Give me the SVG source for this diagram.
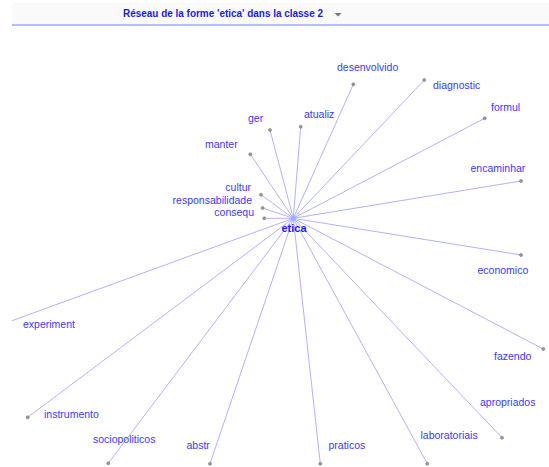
<svg xmlns="http://www.w3.org/2000/svg" width="549" height="467" viewBox="0 0 549 467">
<style>
.lbl{font-family:"Liberation Sans",Arial,sans-serif;font-size:10.5px;fill:#3a3aff}
.e{text-anchor:end}
.dot{fill:#999;stroke:#777;stroke-width:0.6}
.edges line{stroke:#b2b2ff;stroke-width:1}
.title{font-family:"Liberation Sans",Arial,sans-serif;font-size:10px;font-weight:bold;fill:#1a1aee}
</style>
<rect width="549" height="467" fill="#fff"/>
<g id="header">
<rect x="12" y="3" width="537" height="21" fill="#fafafa"/>
<rect x="12" y="24" width="537" height="2" fill="#b4bcff"/>
<text class="title" x="123" y="17" textLength="200" lengthAdjust="spacingAndGlyphs">Réseau de la forme 'etica' dans la classe 2</text>
<polygon points="334.5,13 341.5,13 338,16.5" fill="#777"/>
</g>
<g class="edges" id="connectors">
<line x1="293.3" y1="218.3" x2="270" y2="130"/>
<line x1="293.3" y1="218.3" x2="300.7" y2="126.7"/>
<line x1="293.3" y1="218.3" x2="250.3" y2="154.3"/>
<line x1="293.3" y1="218.3" x2="261" y2="194.7"/>
<line x1="293.3" y1="218.3" x2="262.7" y2="208"/>
<line x1="293.3" y1="218.3" x2="264.3" y2="218.3"/>
<line x1="293.3" y1="218.3" x2="353.3" y2="84.3"/>
<line x1="293.3" y1="218.3" x2="424.3" y2="80"/>
<line x1="293.3" y1="218.3" x2="484.7" y2="118.3"/>
<line x1="293.3" y1="218.3" x2="521" y2="181"/>
<line x1="293.3" y1="218.3" x2="521" y2="255"/>
<line x1="293.3" y1="218.3" x2="543.3" y2="349"/>
<line x1="293.3" y1="218.3" x2="12" y2="320.7"/>
<line x1="293.3" y1="218.3" x2="27.7" y2="417.3"/>
<line x1="293.3" y1="218.3" x2="108.3" y2="463.3"/>
<line x1="293.3" y1="218.3" x2="210" y2="463.7"/>
<line x1="293.3" y1="218.3" x2="320.3" y2="463.7"/>
<line x1="293.3" y1="218.3" x2="427.3" y2="463.7"/>
<line x1="293.3" y1="218.3" x2="502" y2="437.7"/>
</g>
<g id="etica">
<circle cx="293.3" cy="218.3" r="2.5" fill="#9db0ff"/>
<text x="294" y="232" style="font-family:'Liberation Sans',Arial,sans-serif;font-size:11px;font-weight:bold;fill:#1a1aff;text-anchor:middle">etica</text>
</g>
<g id="ger"><circle class="dot" cx="270" cy="130" r="1.5"/><text class="lbl" x="248" y="122">ger</text></g>
<g id="atualiz"><circle class="dot" cx="300.7" cy="126.7" r="1.5"/><text class="lbl" x="304" y="118">atualiz</text></g>
<g id="manter"><circle class="dot" cx="250.3" cy="154.3" r="1.5"/><text class="lbl" x="205" y="148">manter</text></g>
<g id="cultur"><circle class="dot" cx="261" cy="194.7" r="1.5"/><text class="lbl e" x="251" y="191">cultur</text></g>
<g id="responsabilidade"><circle class="dot" cx="262.7" cy="208" r="1.5"/><text class="lbl e" x="252" y="204">responsabilidade</text></g>
<g id="consequ"><circle class="dot" cx="264.3" cy="218.3" r="1.5"/><text class="lbl e" x="254" y="216">consequ</text></g>
<g id="desenvolvido"><circle class="dot" cx="353.3" cy="84.3" r="1.5"/><text class="lbl" x="337" y="71">desenvolvido</text></g>
<g id="diagnostic"><circle class="dot" cx="424.3" cy="80" r="1.5"/><text class="lbl" x="433" y="89">diagnostic</text></g>
<g id="formul"><circle class="dot" cx="484.7" cy="118.3" r="1.5"/><text class="lbl" x="491" y="111">formul</text></g>
<g id="encaminhar"><circle class="dot" cx="521" cy="181" r="1.5"/><text class="lbl" x="470.5" y="171.5">encaminhar</text></g>
<g id="economico"><circle class="dot" cx="521" cy="255" r="1.5"/><text class="lbl" x="477.5" y="274">economico</text></g>
<g id="fazendo"><circle class="dot" cx="543.3" cy="349" r="1.5"/><text class="lbl" x="494" y="360">fazendo</text></g>
<g id="experiment"><text class="lbl" x="23" y="328">experiment</text></g>
<g id="instrumento"><circle class="dot" cx="27.7" cy="417.3" r="1.5"/><text class="lbl" x="44" y="418">instrumento</text></g>
<g id="sociopoliticos"><circle class="dot" cx="108.3" cy="463.3" r="1.5"/><text class="lbl" x="93" y="443">sociopoliticos</text></g>
<g id="abstr"><circle class="dot" cx="210" cy="463.7" r="1.5"/><text class="lbl" x="186.5" y="449">abstr</text></g>
<g id="praticos"><circle class="dot" cx="320.3" cy="463.7" r="1.5"/><text class="lbl" x="328.5" y="449">praticos</text></g>
<g id="laboratoriais"><circle class="dot" cx="427.3" cy="463.7" r="1.5"/><text class="lbl" x="420.5" y="439">laboratoriais</text></g>
<g id="apropriados"><circle class="dot" cx="502" cy="437.7" r="1.5"/><text class="lbl" x="480" y="406">apropriados</text></g>
</svg>
